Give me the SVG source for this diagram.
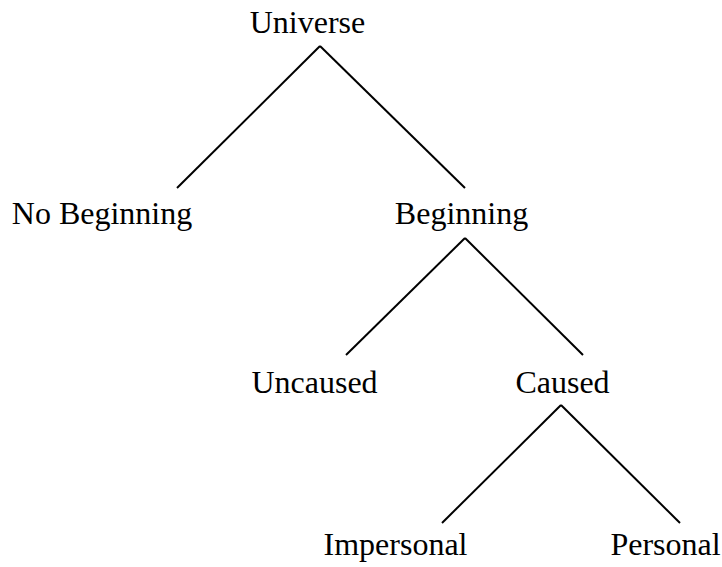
<svg xmlns="http://www.w3.org/2000/svg" width="722" height="567" viewBox="0 0 722 567">
<style>
text{font-family:"Liberation Serif","Times New Roman",serif;font-size:32px;fill:#000;text-anchor:middle}
.c line{stroke:#000;stroke-width:2;fill:none}
</style>
<rect width="722" height="567" fill="#fff"/>
<g class="c" id="connectors">
<line x1="320" y1="46" x2="177" y2="188"/>
<line x1="320" y1="46" x2="465" y2="188"/>
<line x1="465" y1="238" x2="346" y2="355"/>
<line x1="465" y1="238" x2="583" y2="355"/>
<line x1="561" y1="405" x2="442" y2="523"/>
<line x1="561" y1="405" x2="680" y2="523"/>
</g>
<g id="universe"><text x="307.5" y="33">Universe</text></g>
<g id="no-beginning"><text x="102" y="224">No Beginning</text></g>
<g id="beginning"><text x="461.5" y="224">Beginning</text></g>
<g id="uncaused"><text x="314.5" y="393">Uncaused</text></g>
<g id="caused"><text x="562.5" y="393">Caused</text></g>
<g id="impersonal"><text x="395.5" y="555">Impersonal</text></g>
<g id="personal"><text x="665.5" y="555">Personal</text></g>
</svg>
